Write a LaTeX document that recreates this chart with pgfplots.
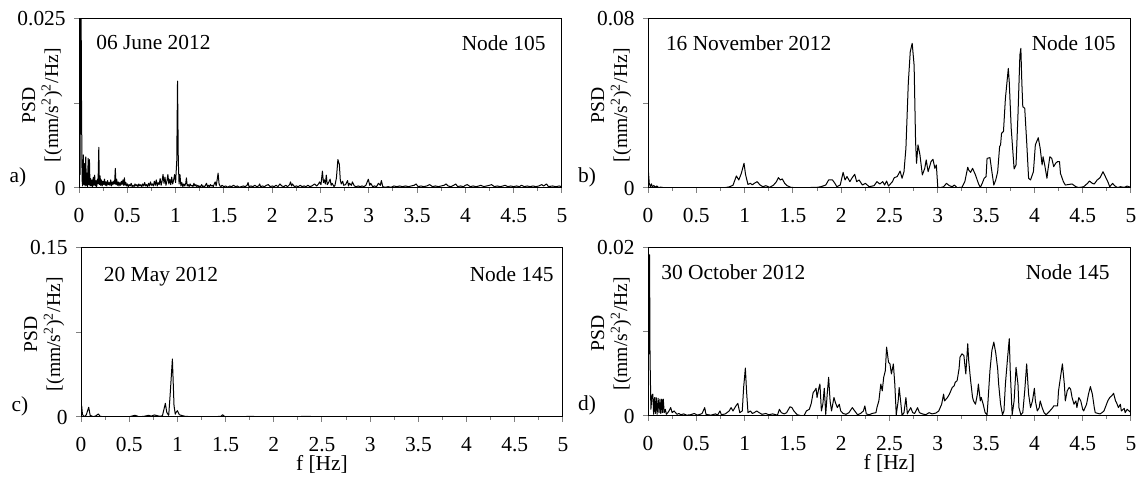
\documentclass[border=0pt]{standalone}
\usepackage{fontspec}
\setmainfont{Liberation Serif}
\usepackage{pgfplots}
\pgfplotsset{compat=1.18}

\pgfplotsset{
  psd/.style={
    scale only axis, width=241.5pt, height=84.5pt,
    xmin=0, xmax=5, ymin=0,
    xtick={0,0.5,...,5}, minor x tick num=1,
    tick align=outside, xtick pos=bottom, ytick pos=left,
    x tick style={line width=0.5pt}, y tick style={line width=0.5pt},
    major tick length=2.5pt, minor tick length=1.4pt,
    axis line style={line width=0.5pt},
    /pgf/number format/assume math mode=true,
    scaled y ticks=false,
    xticklabel style={inner sep=0pt, anchor=north, yshift=-7.5pt},
    yticklabel style={inner sep=0pt, anchor=east, xshift=-4pt},
    ylabel={PSD\\\mbox{[(mm/s\textsuperscript{2})\textsuperscript{2}/Hz]}},
    ylabel style={at={(axis description cs:-0.034,0.49)}, anchor=south,
      align=center, inner sep=0pt, font=\fontsize{9.8}{11.5}\selectfont},
    every axis plot post/.append style={black, line width=0.5pt, mark=none, line join=round},
  },
  flab/.style={xlabel={f [Hz]},
    xlabel style={at={(axis description cs:0.5,-0.28)}, anchor=center, inner sep=0pt}},
}

\begin{document}
\fontsize{10.7}{12.8}\selectfont
\begin{tikzpicture}
\path[use as bounding box] (0,0) rectangle (568.5pt,-240pt);

% a) 06 June 2012, node 105
\begin{axis}[psd, name=a, at={(39.5pt,-94pt)}, anchor=south west,
  ymax=0.025, ytick={0,0.0125,0.025}, yticklabels={0,,0.025}]
\addplot table {
0 1.0e-3
0.006 40e-3
0.012 2e-3
0.018 40e-3
0.026 12.5e-3
0.032 1.2e-3
0.038 0.3e-3
0.045 4.9e-3
0.051 0.5e-3
0.057 3.6e-3
0.063 0.3e-3
0.07 4.6e-3
0.076 0.4e-3
0.082 2.2e-3
0.088 0.2e-3
0.095 4.4e-3
0.101 0.5e-3
0.108 4.2e-3
0.114 0.3e-3
0.12 1.4e-3
0.127 0.3e-3
0.134 1.2e-3
0.141 0.2e-3
0.148 1.6e-3
0.155 0.4e-3
0.162 1.9e-3
0.169 0.3e-3
0.176 1.1e-3
0.183 0.2e-3
0.19 1.3e-3
0.197 0.6e-3
0.205 6.0e-3
0.211 0.5e-3
0.218 1.8e-3
0.225 0.4e-3
0.232 1.2e-3
0.24 0.3e-3
0.248 1.0e-3
0.256 0.5e-3
0.264 1.3e-3
0.272 0.4e-3
0.28 0.9e-3
0.288 0.3e-3
0.296 1.1e-3
0.304 0.5e-3
0.312 0.8e-3
0.32 0.4e-3
0.328 1.2e-3
0.336 0.3e-3
0.344 0.9e-3
0.352 0.5e-3
0.36 1.0e-3
0.368 0.6e-3
0.376 2.9e-3
0.383 0.5e-3
0.39 1.3e-3
0.398 0.4e-3
0.406 0.9e-3
0.414 0.3e-3
0.422 0.8e-3
0.43 0.4e-3
0.438 1.0e-3
0.446 0.5e-3
0.455 1.2e-3
0.463 0.4e-3
0.47 1.5e-3
0.478 0.4e-3
0.486 0.8e-3
0.494 0.3e-3
0.502 0.6e-3
0.51 0.2e-3
0.52 0.5e-3
0.53 0.3e-3
0.54 0.7e-3
0.55 0.2e-3
0.56 0.4e-3
0.57 0.2e-3
0.58 0.6e-3
0.59 0.3e-3
0.6 0.5e-3
0.61 0.2e-3
0.62 0.6e-3
0.63 0.3e-3
0.64 0.5e-3
0.65 0.2e-3
0.66 0.6e-3
0.67 0.3e-3
0.68 0.8e-3
0.69 0.3e-3
0.7 0.5e-3
0.71 0.2e-3
0.72 0.7e-3
0.73 0.3e-3
0.74 0.9e-3
0.75 0.4e-3
0.76 0.6e-3
0.77 0.3e-3
0.78 1.0e-3
0.79 0.4e-3
0.8 1.2e-3
0.81 0.3e-3
0.82 0.8e-3
0.83 0.5e-3
0.84 1.4e-3
0.85 0.4e-3
0.86 1.0e-3
0.87 2.0e-3
0.88 0.7e-3
0.89 1.6e-3
0.9 0.4e-3
0.91 1.0e-3
0.92 2.0e-3
0.93 0.6e-3
0.94 1.3e-3
0.95 0.5e-3
0.96 1.6e-3
0.97 0.6e-3
0.98 1.2e-3
0.99 2.0e-3
1.0 0.8e-3
1.012 4e-3
1.02 15.8e-3
1.028 4e-3
1.036 0.6e-3
1.045 2.0e-3
1.055 0.3e-3
1.065 0.8e-3
1.075 0.2e-3
1.085 0.6e-3
1.095 0.3e-3
1.105 0.7e-3
1.112 1.5e-3
1.12 0.3e-3
1.13 0.5e-3
1.14 0.2e-3
1.15 0.6e-3
1.16 0.3e-3
1.17 0.4e-3
1.18 0.2e-3
1.19 0.7e-3
1.2 0.3e-3
1.21 0.5e-3
1.22 0.2e-3
1.23 0.4e-3
1.24 0.2e-3
1.25 0.3e-3
1.26 0.2e-3
1.27 0.5e-3
1.28 0.2e-3
1.29 0.3e-3
1.3 0.2e-3
1.31 0.4e-3
1.32 0.7e-3
1.33 0.2e-3
1.34 0.4e-3
1.35 0.2e-3
1.36 0.5e-3
1.37 0.3e-3
1.38 0.4e-3
1.39 0.2e-3
1.4 0.6e-3
1.41 0.9e-3
1.42 0.3e-3
1.43 1.2e-3
1.44 2.2e-3
1.45 0.6e-3
1.46 0.3e-3
1.47 0.2e-3
1.48 0.4e-3
1.5 0.2e-3
1.52 0.3e-3
1.54 0.1e-3
1.56 0.3e-3
1.58 0.2e-3
1.6 0.4e-3
1.62 0.2e-3
1.64 0.3e-3
1.66 0.1e-3
1.68 0.2e-3
1.7 0.3e-3
1.72 0.2e-3
1.74 0.4e-3
1.75 0.8e-3
1.76 0.2e-3
1.78 0.3e-3
1.8 0.2e-3
1.82 0.4e-3
1.84 0.2e-3
1.86 0.3e-3
1.87 0.6e-3
1.88 0.2e-3
1.9 0.3e-3
1.92 0.2e-3
1.94 0.4e-3
1.96 0.5e-3
1.98 0.2e-3
2.0 0.3e-3
2.02 0.2e-3
2.04 0.4e-3
2.06 0.2e-3
2.08 0.6e-3
2.1 0.3e-3
2.12 0.2e-3
2.14 0.4e-3
2.16 0.2e-3
2.18 0.5e-3
2.19 0.9e-3
2.2 0.3e-3
2.21 0.6e-3
2.23 0.2e-3
2.25 0.3e-3
2.27 0.2e-3
2.29 0.4e-3
2.31 0.2e-3
2.33 0.3e-3
2.35 0.2e-3
2.37 0.4e-3
2.39 0.2e-3
2.41 0.3e-3
2.43 0.5e-3
2.44 0.6e-3
2.46 0.3e-3
2.48 0.6e-3
2.49 0.9e-3
2.505 0.5e-3
2.52 2.5e-3
2.53 0.8e-3
2.54 1.2e-3
2.55 0.6e-3
2.56 1.9e-3
2.57 0.5e-3
2.58 0.7e-3
2.6 1.3e-3
2.61 0.4e-3
2.62 0.7e-3
2.64 0.2e-3
2.65 0.4e-3
2.665 1.5e-3
2.68 4.2e-3
2.695 3.5e-3
2.705 1.2e-3
2.715 0.6e-3
2.73 1.0e-3
2.74 0.4e-3
2.76 0.5e-3
2.78 1.1e-3
2.79 0.3e-3
2.8 0.7e-3
2.82 0.4e-3
2.83 0.9e-3
2.85 0.3e-3
2.87 0.2e-3
2.89 0.3e-3
2.91 0.2e-3
2.93 0.3e-3
2.95 0.2e-3
2.97 0.4e-3
2.995 1.3e-3
3.01 0.4e-3
3.02 0.7e-3
3.04 0.2e-3
3.06 0.3e-3
3.08 0.2e-3
3.1 0.7e-3
3.12 0.4e-3
3.13 1.1e-3
3.145 0.2e-3
3.17 0.1e-3
3.2 0.2e-3
3.23 0.1e-3
3.26 0.3e-3
3.29 0.2e-3
3.32 0.3e-3
3.35 0.2e-3
3.38 0.3e-3
3.41 0.2e-3
3.44 0.3e-3
3.47 0.4e-3
3.49 0.6e-3
3.51 0.2e-3
3.54 0.3e-3
3.57 0.2e-3
3.6 0.3e-3
3.63 0.5e-3
3.66 0.2e-3
3.69 0.3e-3
3.72 0.2e-3
3.75 0.3e-3
3.78 0.4e-3
3.8 0.6e-3
3.82 0.3e-3
3.85 0.2e-3
3.88 0.4e-3
3.9 0.6e-3
3.92 0.2e-3
3.95 0.3e-3
3.98 0.2e-3
4.0 0.4e-3
4.02 0.5e-3
4.05 0.2e-3
4.08 0.3e-3
4.11 0.2e-3
4.14 0.3e-3
4.16 0.4e-3
4.19 0.2e-3
4.22 0.3e-3
4.25 0.4e-3
4.27 0.5e-3
4.3 0.2e-3
4.33 0.3e-3
4.36 0.2e-3
4.39 0.3e-3
4.41 0.4e-3
4.44 0.2e-3
4.47 0.3e-3
4.5 0.2e-3
4.53 0.3e-3
4.56 0.2e-3
4.58 0.4e-3
4.61 0.2e-3
4.64 0.3e-3
4.67 0.2e-3
4.7 0.3e-3
4.73 0.2e-3
4.76 0.3e-3
4.79 0.5e-3
4.81 0.3e-3
4.84 0.6e-3
4.86 0.2e-3
4.9 0.3e-3
4.94 0.2e-3
4.97 0.3e-3
5.0 0.2e-3
};
\node[anchor=north west, inner sep=0pt, xshift=8.5pt, yshift=-8pt] at (rel axis cs:0,1) {06 June 2012};
\node[anchor=north east, inner sep=0pt, xshift=-8pt, yshift=-8pt] at (rel axis cs:1,1) {Node 105};
\end{axis}
\node at ([xshift=-30.5pt, yshift=5.5pt]a.south west) {a)};

% b) 16 November 2012, node 105
\begin{axis}[psd, name=b, at={(324pt,-94pt)}, anchor=south west,
  ymax=0.08, ytick={0,0.04,0.08}, yticklabels={0,,0.08}]
\addplot table {
0 10.6e-3
0.013 2.2e-3
0.025 0.5e-3
0.035 2.0e-3
0.045 0.5e-3
0.06 1.2e-3
0.075 0.3e-3
0.09 1.0e-3
0.11 0.2e-3
0.13 0.4e-3
0.16 0.2e-3
0.2 0.1e-3
0.3 0.1e-3
0.4 0.2e-3
0.5 0.1e-3
0.6 0.1e-3
0.7 0.2e-3
0.8 0.2e-3
0.84 0.5e-3
0.88 1.3e-3
0.915 5.7e-3
0.94 3.8e-3
0.966 6.9e-3
0.994 11.7e-3
1.01 6.3e-3
1.035 1.7e-3
1.06 2.2e-3
1.08 1.5e-3
1.1 2.2e-3
1.13 3.0e-3
1.16 1.4e-3
1.19 0.6e-3
1.22 1.1e-3
1.26 0.3e-3
1.3 1.4e-3
1.33 3.0e-3
1.35 4.9e-3
1.37 3.8e-3
1.39 4.3e-3
1.415 2.2e-3
1.44 1.1e-3
1.48 0.3e-3
1.55 0.1e-3
1.65 0.2e-3
1.75 0.3e-3
1.79 0.6e-3
1.84 1.4e-3
1.87 3.8e-3
1.91 3.8e-3
1.935 2.2e-3
1.955 0.6e-3
1.99 1.4e-3
2.02 7.4e-3
2.04 3.8e-3
2.06 5.4e-3
2.09 3.0e-3
2.11 4.6e-3
2.14 6.5e-3
2.16 3.0e-3
2.185 3.8e-3
2.22 1.4e-3
2.25 2.2e-3
2.29 0.6e-3
2.34 1.1e-3
2.37 3.0e-3
2.4 1.9e-3
2.43 3.0e-3
2.45 1.4e-3
2.47 3.3e-3
2.49 0.9e-3
2.53 3.0e-3
2.55 4.9e-3
2.58 5.4e-3
2.61 8.0e-3
2.63 4.6e-3
2.65 7.7e-3
2.67 18.8e-3
2.695 50e-3
2.715 64.5e-3
2.735 68.5e-3
2.755 58e-3
2.77 22e-3
2.78 11.7e-3
2.795 20.4e-3
2.815 15.8e-3
2.84 6.2e-3
2.865 9.3e-3
2.88 13.3e-3
2.9 7.7e-3
2.93 12.5e-3
2.95 13.6e-3
2.97 9.3e-3
2.985 10.9e-3
3.0 0.3e-3
3.03 0.2e-3
3.06 0.6e-3
3.09 2.2e-3
3.12 1.1e-3
3.15 0.6e-3
3.17 1.4e-3
3.2 0.2e-3
3.25 0.3e-3
3.28 3.0e-3
3.31 9.8e-3
3.32 8.5e-3
3.34 7.4e-3
3.36 9.3e-3
3.39 6.2e-3
3.42 2.2e-3
3.44 0.3e-3
3.46 2.2e-3
3.48 4.6e-3
3.5 5.4e-3
3.51 14e-3
3.54 14.4e-3
3.56 7.7e-3
3.58 1.4e-3
3.6 3.8e-3
3.62 7.7e-3
3.64 19.6e-3
3.65 20.4e-3
3.66 25.9e-3
3.68 26.8e-3
3.70 42.4e-3
3.73 56.6e-3
3.74 50e-3
3.76 28.2e-3
3.79 9e-3
3.81 10.9e-3
3.83 34.6e-3
3.85 63e-3
3.86 66.1e-3
3.87 50e-3
3.88 38.5e-3
3.90 37.7e-3
3.92 22e-3
3.94 4.6e-3
3.96 3.8e-3
3.99 7.7e-3
4.01 20.4e-3
4.04 23.8e-3
4.06 18.8e-3
4.08 10.9e-3
4.09 14.8e-3
4.11 10.1e-3
4.13 4.6e-3
4.14 8.5e-3
4.16 14.8e-3
4.18 14e-3
4.20 10.1e-3
4.22 11.7e-3
4.24 12.5e-3
4.26 12.5e-3
4.27 6.9e-3
4.30 3.0e-3
4.32 1.4e-3
4.36 1.7e-3
4.39 1.9e-3
4.43 0.6e-3
4.46 0.2e-3
4.51 0.6e-3
4.55 2.2e-3
4.57 3.3e-3
4.60 2.2e-3
4.62 1.9e-3
4.65 3.8e-3
4.68 4.9e-3
4.71 7.7e-3
4.74 4.9e-3
4.76 3.0e-3
4.78 0.6e-3
4.81 2.2e-3
4.83 1.1e-3
4.86 0.2e-3
4.89 0.6e-3
4.93 0.3e-3
4.96 0.9e-3
5.0 0.3e-3
};
\node[anchor=north west, inner sep=0pt, xshift=8.8pt, yshift=-8.3pt] at (rel axis cs:0,1) {16 November 2012};
\node[anchor=north east, inner sep=0pt, xshift=-7.5pt, yshift=-8.3pt] at (rel axis cs:1,1) {Node 105};
\end{axis}
\node at ([xshift=-30.5pt, yshift=5.5pt]b.south west) {b)};

% c) 20 May 2012, node 145
\begin{axis}[psd, flab, name=c, at={(40.5pt,-208.5pt)}, anchor=south west,
  width=241pt, ymax=0.15, ytick={0,0.075,0.15}, yticklabels={0,,0.15}]
\addplot table {
0 0.3e-3
0.007 10e-3
0.015 2.5e-3
0.025 1.0e-3
0.04 0.5e-3
0.055 2.0e-3
0.08 8.6e-3
0.095 1.5e-3
0.125 0.3e-3
0.15 0.8e-3
0.18 2.7e-3
0.2 0.5e-3
0.25 0.3e-3
0.3 0.2e-3
0.35 0.3e-3
0.4 0.2e-3
0.45 0.3e-3
0.5 0.2e-3
0.56 1.5e-3
0.6 0.3e-3
0.65 0.5e-3
0.7 1.5e-3
0.73 0.8e-3
0.76 1.8e-3
0.79 1.2e-3
0.82 0.6e-3
0.845 1.2e-3
0.875 12.1e-3
0.89 4.0e-3
0.91 1.5e-3
0.925 20e-3
0.948 51.5e-3
0.965 10e-3
0.978 2.5e-3
0.985 4e-3
1.0 5.6e-3
1.02 2.0e-3
1.05 1.2e-3
1.08 0.6e-3
1.12 0.4e-3
1.2 0.3e-3
1.3 0.3e-3
1.4 0.4e-3
1.45 0.5e-3
1.47 2.0e-3
1.49 0.4e-3
1.55 0.3e-3
1.65 0.2e-3
1.76 0.6e-3
1.85 0.2e-3
2.0 0.2e-3
2.2 0.2e-3
2.34 0.6e-3
2.45 0.2e-3
2.7 0.2e-3
3.0 0.2e-3
3.3 0.2e-3
3.6 0.2e-3
4.0 0.2e-3
4.5 0.2e-3
5.0 0.2e-3
};
\node[anchor=north west, inner sep=0pt, xshift=11.3pt, yshift=-9.3pt] at (rel axis cs:0,1) {20 May 2012};
\node[anchor=north east, inner sep=0pt, xshift=-4.5pt, yshift=-9.3pt] at (rel axis cs:1,1) {Node 145};
\end{axis}
\node at ([xshift=-30.5pt, yshift=5.5pt]c.south west) {c)};

% d) 30 October 2012, node 145
\begin{axis}[psd, flab, name=d, at={(324pt,-208pt)}, anchor=south west,
  height=84pt, ymax=0.02, ytick={0,0.01,0.02}, yticklabels={0,,0.02}]
\addplot table {
0 3e-3
0.005 19.5e-3
0.011 7.4e-3
0.016 19.2e-3
0.021 7.0e-3
0.03 0.8e-3
0.042 2.5e-3
0.05 2.6e-3
0.058 0.2e-3
0.068 2.2e-3
0.076 0.3e-3
0.085 2.2e-3
0.094 0.2e-3
0.105 2.1e-3
0.114 0.4e-3
0.124 2.0e-3
0.132 0.3e-3
0.142 2.0e-3
0.15 0.4e-3
0.158 2.0e-3
0.168 0.4e-3
0.18 0.8e-3
0.19 0.2e-3
0.205 0.4e-3
0.217 0.6e-3
0.235 1.0e-3
0.25 0.4e-3
0.27 0.6e-3
0.3 0.2e-3
0.32 0.3e-3
0.34 0.15e-3
0.37 0.25e-3
0.4 0.1e-3
0.44 0.15e-3
0.48 0.3e-3
0.51 0.1e-3
0.54 0.2e-3
0.56 0.3e-3
0.587 1.0e-3
0.6 0.2e-3
0.65 0.1e-3
0.7 0.25e-3
0.72 0.1e-3
0.745 0.6e-3
0.76 0.15e-3
0.8 0.25e-3
0.84 0.6e-3
0.86 1.0e-3
0.88 0.6e-3
0.91 1.2e-3
0.93 1.5e-3
0.95 0.4e-3
0.976 0.6e-3
0.99 3.4e-3
1.008 5.7e-3
1.02 3.0e-3
1.035 0.4e-3
1.06 0.6e-3
1.08 0.3e-3
1.10 0.4e-3
1.125 0.6e-3
1.15 0.4e-3
1.18 0.2e-3
1.22 0.3e-3
1.25 0.15e-3
1.29 0.25e-3
1.34 0.1e-3
1.36 0.8e-3
1.38 0.4e-3
1.41 0.25e-3
1.435 0.4e-3
1.47 1.1e-3
1.49 1.0e-3
1.51 0.6e-3
1.545 0.15e-3
1.58 0.05e-3
1.615 0.05e-3
1.64 0.6e-3
1.67 0.8e-3
1.69 1.5e-3
1.71 2.8e-3
1.725 3.0e-3
1.74 3.3e-3
1.75 2.2e-3
1.77 3.4e-3
1.78 3.8e-3
1.795 0.6e-3
1.81 1.4e-3
1.825 3.3e-3
1.84 0.2e-3
1.855 2.6e-3
1.87 4.6e-3
1.885 1.8e-3
1.90 0.6e-3
1.925 2.2e-3
1.94 1.6e-3
1.96 1.0e-3
1.98 1.4e-3
1.995 0.6e-3
2.02 0.3e-3
2.05 0.2e-3
2.08 0.4e-3
2.115 1.0e-3
2.14 0.6e-3
2.17 0.15e-3
2.20 0.3e-3
2.23 0.6e-3
2.245 1.2e-3
2.26 0.25e-3
2.29 0.15e-3
2.32 0.3e-3
2.36 0.4e-3
2.37 1.0e-3
2.39 1.8e-3
2.41 3.8e-3
2.425 3.0e-3
2.44 4.6e-3
2.457 5.4e-3
2.47 8.2e-3
2.49 6.4e-3
2.505 6.2e-3
2.52 5.0e-3
2.54 6.2e-3
2.555 3.8e-3
2.57 0.15e-3
2.59 1.8e-3
2.60 3.4e-3
2.615 1.8e-3
2.63 0.05e-3
2.65 0.4e-3
2.67 2.2e-3
2.685 0.25e-3
2.70 0.6e-3
2.72 1.0e-3
2.74 0.4e-3
2.76 0.3e-3
2.79 1.0e-3
2.81 0.4e-3
2.84 0.25e-3
2.875 0.15e-3
2.91 0.4e-3
2.94 0.25e-3
2.98 0.35e-3
3.01 0.6e-3
3.04 1.4e-3
3.06 2.6e-3
3.07 1.8e-3
3.10 2.2e-3
3.12 2.6e-3
3.15 3.4e-3
3.17 3.6e-3
3.18 4.0e-3
3.20 4.2e-3
3.22 5.6e-3
3.23 7.0e-3
3.25 7.4e-3
3.27 7.2e-3
3.29 5.0e-3
3.31 8.6e-3
3.32 6.6e-3
3.34 4.2e-3
3.36 2.2e-3
3.37 1.8e-3
3.39 1.4e-3
3.41 2.6e-3
3.42 3.8e-3
3.44 1.8e-3
3.45 2.2e-3
3.47 1.4e-3
3.49 0.4e-3
3.51 0.15e-3
3.52 1.8e-3
3.54 5.4e-3
3.56 7.8e-3
3.58 8.8e-3
3.60 7.5e-3
3.62 5.6e-3
3.63 3.8e-3
3.65 1.4e-3
3.67 0.15e-3
3.685 0.6e-3
3.70 3.8e-3
3.72 6.6e-3
3.74 9.2e-3
3.75 5.4e-3
3.77 0.15e-3
3.79 1.8e-3
3.81 5.8e-3
3.83 3.8e-3
3.84 1.0e-3
3.86 0.15e-3
3.88 0.4e-3
3.90 3.0e-3
3.92 6.2e-3
3.94 2.6e-3
3.96 1.0e-3
3.98 1.8e-3
4.0 3.3e-3
4.01 1.8e-3
4.03 0.6e-3
4.05 1.0e-3
4.06 1.8e-3
4.08 1.0e-3
4.10 0.4e-3
4.12 0.15e-3
4.13 0.25e-3
4.16 0.6e-3
4.19 1.0e-3
4.20 1.2e-3
4.24 1.2e-3
4.25 3.0e-3
4.27 4.6e-3
4.29 6.2e-3
4.31 3.8e-3
4.32 1.8e-3
4.34 3.0e-3
4.36 3.4e-3
4.375 3.2e-3
4.39 2.2e-3
4.41 1.4e-3
4.43 1.8e-3
4.44 1.0e-3
4.46 2.2e-3
4.48 1.8e-3
4.50 0.8e-3
4.51 0.6e-3
4.54 1.4e-3
4.56 2.6e-3
4.58 3.5e-3
4.60 2.6e-3
4.62 1.0e-3
4.63 0.4e-3
4.66 0.3e-3
4.68 0.25e-3
4.70 0.4e-3
4.72 0.6e-3
4.74 1.2e-3
4.76 1.8e-3
4.78 2.2e-3
4.80 2.4e-3
4.82 2.7e-3
4.84 1.8e-3
4.85 1.6e-3
4.87 1.0e-3
4.89 1.4e-3
4.90 0.6e-3
4.93 0.9e-3
4.94 0.4e-3
4.96 0.8e-3
4.98 0.6e-3
5.0 0.4e-3
};
\node[anchor=north west, inner sep=0pt, xshift=6.5pt, yshift=-8.3pt] at (rel axis cs:0,1) {30 October 2012};
\node[anchor=north east, inner sep=0pt, xshift=-10.5pt, yshift=-8.3pt] at (rel axis cs:1,1) {Node 145};
\end{axis}
\node at ([xshift=-30.5pt, yshift=5.5pt]d.south west) {d)};
\end{tikzpicture}
\end{document}
